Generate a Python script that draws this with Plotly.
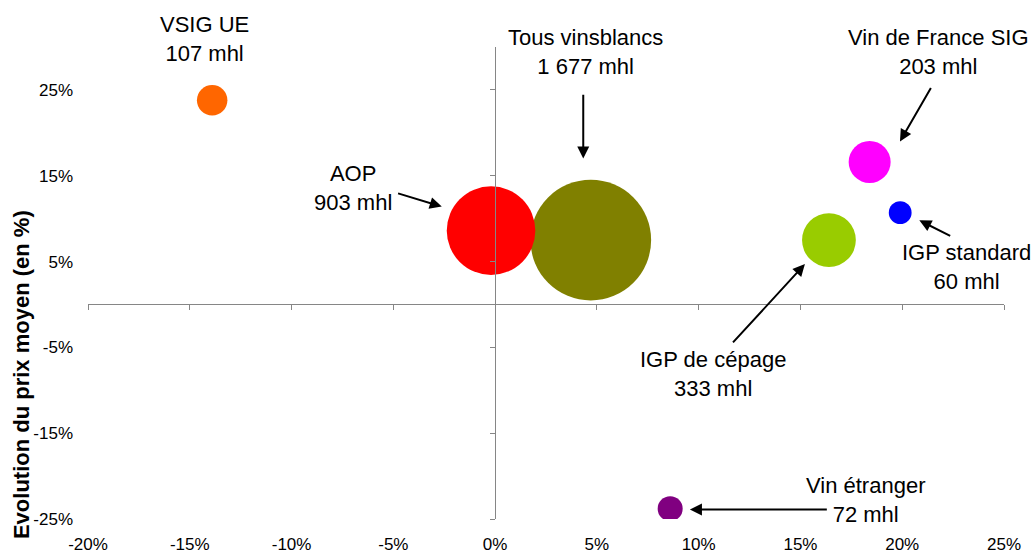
import plotly.graph_objects as go

# ---- data ----
names = ["Tous vinsblancs", "AOP", "VSIG UE", "Vin de France SIG", "IGP standard", "IGP de cépage", "Vin étranger"]
volumes = [1677, 903, 107, 203, 60, 333, 72]          # mhl
vol_change = [4.7, -0.2, -13.9, 18.4, 19.9, 16.4, 8.6]  # x, %
price_change = [7.5, 8.6, 23.8, 16.6, 10.7, 7.5, -23.8]  # y, %
colors = ["#808000", "#FF0000", "#FF6600", "#FF00FF", "#0000FF", "#99CC00", "#800080"]

x_ticks = [-20, -15, -10, -5, 0, 5, 10, 15, 20, 25]
x_ticktext = ["-20%", "-15%", "-10%", "-5%", "0%", "5%", "10%", "15%", "20%", "25%"]
y_ticks = [25, 15, 5, -5, -15, -25]
y_ticktext = ["25%", "15%", "5%", "-5%", "-15%", "-25%"]
x_range = [-20, 25]
y_range = [-25, 30]

# label text positions (data units) and arrows (tail -> head, data units)
label_x = [4.44, -7.0, -14.3, 21.76, 23.17, 10.7, 18.2]
label_y = [29.4, 13.6, 30.9, 29.4, 4.4, -8.1, -22.75]
arrow_tail = [(4.33, 24.6), (-4.84, 13.0), None, (21.45, 25.4), (22.43, 7.9), (11.62, -4.6), (16.37, -23.9)]
arrow_head = [(4.33, 17.0), (-2.62, 11.4), None, (19.89, 19.0), (20.84, 9.8), (15.22, 4.7), (9.57, -23.9)]

FONT = "Liberation Sans, Arial, sans-serif"
AXIS_GRAY = "#868686"

fig = go.Figure()
fig.add_trace(go.Scatter(
    x=vol_change, y=price_change, mode="markers",
    marker=dict(size=volumes, sizemode="area", sizeref=0.2302, color=colors, opacity=1,
                line=dict(width=0)),
    hoverinfo="text", hovertext=[f"{n}: {v} mhl" for n, v in zip(names, volumes)],
    showlegend=False,
))
# invisible trace to carry crossing axes
fig.add_trace(go.Scatter(x=[0], y=[0], xaxis="x2", yaxis="y2", mode="markers",
                         marker=dict(opacity=0), hoverinfo="skip", showlegend=False))

def px(xv):
    return (xv - x_range[0]) / (x_range[1] - x_range[0])

def py(yv):
    return (yv - y_range[0]) / (y_range[1] - y_range[0])

def fmt_vol(v):
    return f"{v:,}".replace(",", " ")

annotations = []
for n, v, lx, ly in zip(names, volumes, label_x, label_y):
    annotations.append(dict(
        x=px(lx), y=py(ly), xref="paper", yref="paper",
        text=f"{n}<br>{fmt_vol(v)} mhl", showarrow=False,
        font=dict(family=FONT, size=22, color="#000000"),
        xanchor="center", yanchor="middle", align="center",
    ))
for t, h in zip(arrow_tail, arrow_head):
    if t is None:
        continue
    annotations.append(dict(
        x=h[0], y=h[1], ax=t[0], ay=t[1], xref="x", yref="y", axref="x", ayref="y",
        text="", showarrow=True, arrowhead=2, arrowsize=1.2, arrowwidth=2, arrowcolor="#000000",
    ))
annotations.append(dict(
    x=-0.0731, y=0.305, xref="paper", yref="paper", text="<b>Evolution du prix moyen (en %)</b>",
    showarrow=False, textangle=-90, font=dict(family=FONT, size=22, color="#000000"),
    xanchor="center", yanchor="middle",
))

fig.update_layout(
    width=1032, height=554,
    margin=dict(l=88, r=28, t=47, b=35, autoexpand=False),
    paper_bgcolor="white", plot_bgcolor="white",
    font=dict(family=FONT, color="#000000"),
    annotations=annotations,
    xaxis=dict(range=x_range, tickvals=x_ticks, ticktext=x_ticktext, showgrid=False, zeroline=False,
               showline=False, ticks="", tickfont=dict(size=17, family=FONT), ticklabelstandoff=13,
               fixedrange=True, automargin=False),
    yaxis=dict(range=y_range, tickvals=y_ticks, ticktext=y_ticktext, showgrid=False, zeroline=False,
               showline=False, ticks="", tickfont=dict(size=17, family=FONT), ticklabelstandoff=14,
               fixedrange=True, automargin=False),
    xaxis2=dict(range=x_range, overlaying="x", anchor="free", position=py(0), side="bottom",
                tickvals=x_ticks, showticklabels=False, ticks="outside", ticklen=5, tickwidth=1,
                tickcolor=AXIS_GRAY, showline=True, linecolor=AXIS_GRAY, linewidth=1,
                showgrid=False, zeroline=False, fixedrange=True),
    yaxis2=dict(range=y_range, overlaying="y", anchor="free", position=px(0), side="left",
                tickvals=y_ticks, showticklabels=False, ticks="outside", ticklen=5, tickwidth=1,
                tickcolor=AXIS_GRAY, showline=True, linecolor=AXIS_GRAY, linewidth=1,
                showgrid=False, zeroline=False, fixedrange=True),
)

fig.write_html("out.html", config={"displayModeBar": False},
               post_script="document.body.style.margin='0';document.body.style.overflow='hidden';")
